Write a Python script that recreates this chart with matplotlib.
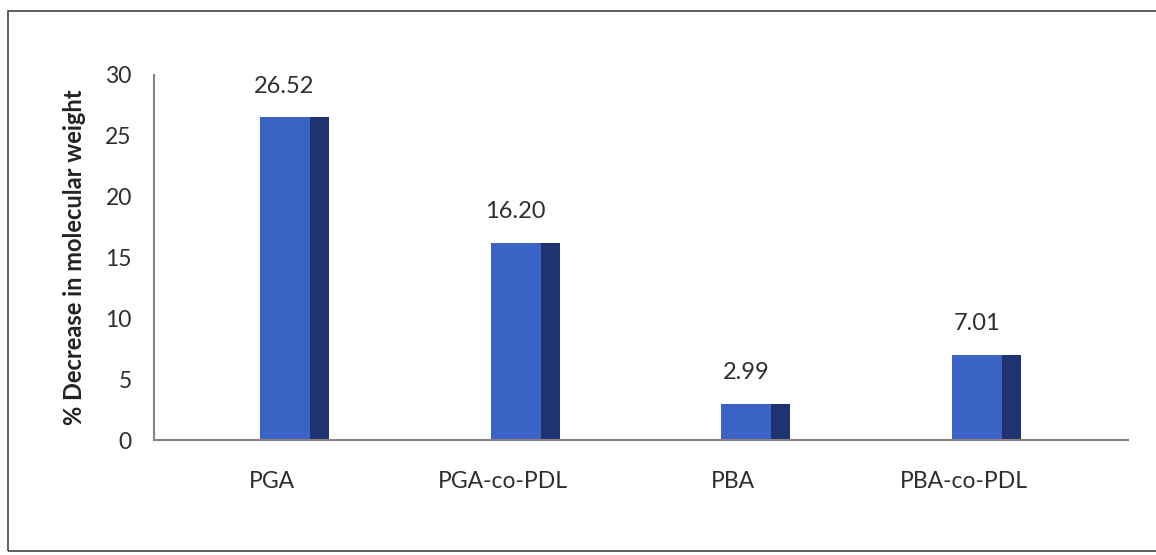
import matplotlib
matplotlib.use("Agg")
import matplotlib.pyplot as plt
from matplotlib.patches import Rectangle

categories = ["PGA", "PGA-co-PDL", "PBA", "PBA-co-PDL"]
values = [26.52, 16.20, 2.99, 7.01]
value_labels = ["26.52", "16.20", "2.99", "7.01"]
yticks = [0, 5, 10, 15, 20, 25, 30]

front_col = "#3b63c6"
side_col = "#1f3272"
axis_col = "#8c8283"
text_col = "#2e2e2e"

plt.rcParams["font.family"] = ["Lato", "DejaVu Sans"]

fig = plt.figure(figsize=(11.56, 5.55), dpi=100)
ax = fig.add_axes([0.1332, 0.2072, 0.9758 - 0.1332, 0.8649 - 0.2072])

x = list(range(len(categories)))
front_x = [i - 0.052 for i in x]
side_x = [i + 0.165 for i in x]
ax.bar(front_x, values, width=0.217, align="edge", color=front_col, zorder=2)
ax.bar(side_x, values, width=0.082, align="edge", color=side_col, zorder=2)

for i, v, lab in zip(x, values, value_labels):
    ax.text(i + 0.055, v + 1.7, lab, ha="center", va="bottom",
            fontsize=17, color=text_col)

ax.set_xlim(-0.51, 3.71)
ax.set_ylim(0, 30)
ax.set_yticks(yticks)
ax.set_xticks(x)
ax.set_xticklabels(categories, fontsize=16.5, color=text_col)
ax.tick_params(axis="y", labelsize=16.5, labelcolor=text_col, length=0, pad=16)
ax.tick_params(axis="x", length=0, pad=22)
ax.set_ylabel("% Decrease in molecular weight", fontsize=17,
              fontweight="bold", color="#222222", labelpad=14)

for s in ["top", "right"]:
    ax.spines[s].set_visible(False)
for s in ["left", "bottom"]:
    ax.spines[s].set_color(axis_col)
    ax.spines[s].set_linewidth(1.5)

# outer chart border
border = Rectangle((8 / 1156, 4 / 555), 1.05, 1 - 4 / 555 - 11 / 555,
                   transform=fig.transFigure, fill=False,
                   edgecolor="#444444", linewidth=1.2, clip_on=False)
fig.patches.append(border)

fig.savefig("out.png", dpi=100)
